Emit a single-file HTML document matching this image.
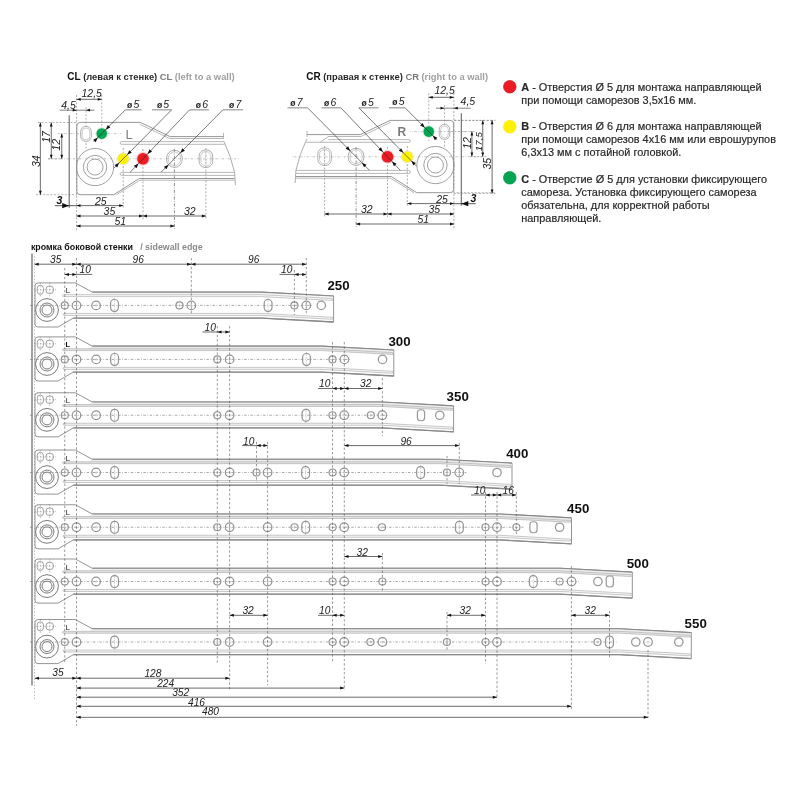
<!DOCTYPE html>
<html><head><meta charset="utf-8"><style>html,body{margin:0;padding:0;background:#fff;}svg{display:block;} svg{will-change:transform;}</style></head>
<body><svg width="800" height="800" viewBox="0 0 800 800">
<rect width="800" height="800" fill="#fff"/>
<path d="M58,327 L38,327 Q35,327 35,324 L35,285.9 Q35,282.9 38,282.9 L75.3,282.9 L92.2,292.1 L261.6,292.1 L333.6,296 L333.6,322 L261.6,318.1 L73.3,318.1 Z" fill="#fff" stroke="#8f8f8f" stroke-width="0.95"/>
<path d="M92.2,292.6 L261.6,292.6 L333,296.5 L333,298.6 L261.6,294.7 L88,294.7 Z" fill="#f6f6f6"/>
<path d="M63.5,294.7 L261.6,294.7 L332.6,298.6 L332.6,300.5 L261.6,296.6 L63.5,296.6 Q62.5,296.6 62.5,295.65 Q62.5,294.7 63.5,294.7 Z" fill="#fafafa" stroke="#a6a6a6" stroke-width="0.6"/>
<path d="M64,313.4 L261.6,313.4 L332.6,317.3 L332.6,319.3 L261.6,315.4 L64,315.4 Q63,315.4 63,314.4 Q63,313.4 64,313.4 Z" fill="#f6f6f6" stroke="#a6a6a6" stroke-width="0.6"/>
<path d="M73.3,318.1 L261.6,318.1 L333.6,322" fill="none" stroke="#8a8a8a" stroke-width="1.3"/>
<path d="M92.2,292.1 L261.6,292.1 L333.6,296" fill="none" stroke="#8a8a8a" stroke-width="1.1"/>
<circle cx="47" cy="310" r="11.4" fill="none" stroke="#7c7c7c" stroke-width="1"/>
<circle cx="47" cy="310" r="7" fill="none" stroke="#7c7c7c" stroke-width="1"/>
<circle cx="47" cy="310" r="5" fill="none" stroke="#7c7c7c" stroke-width="1"/>
<rect x="37.2" y="285.3" width="6.2" height="9" rx="3" fill="none" stroke="#8a8a8a" stroke-width="0.8"/>
<circle cx="49.7" cy="289.8" r="3.9" fill="none" stroke="#8a8a8a" stroke-width="0.8"/>
<line x1="34" y1="289.8" x2="56" y2="289.8" stroke="#888" stroke-width="0.5" stroke-dasharray="1.6,1.4" />
<line x1="40.3" y1="282.8" x2="40.3" y2="296.8" stroke="#888" stroke-width="0.5" stroke-dasharray="1.6,1.4" />
<line x1="49.7" y1="282.8" x2="49.7" y2="296.8" stroke="#888" stroke-width="0.5" stroke-dasharray="1.6,1.4" />
<text x="65.5" y="293.4" font-family="Liberation Sans" font-size="7.4" fill="#666" font-weight="bold" >L</text>
<line x1="30" y1="305.4" x2="313.3" y2="305.4" stroke="#777" stroke-width="0.65" stroke-dasharray="2.4,1.6,0.7,1.6" />
<circle cx="64.75" cy="305.4" r="3.5" fill="none" stroke="#939393" stroke-width="1.2"/>
<line x1="63.25" y1="305.4" x2="66.25" y2="305.4" stroke="#aaa" stroke-width="0.5" />
<line x1="64.75" y1="303.9" x2="64.75" y2="306.9" stroke="#aaa" stroke-width="0.5" />
<circle cx="76.5" cy="305.4" r="4.3" fill="none" stroke="#939393" stroke-width="1.2"/>
<line x1="75" y1="305.4" x2="78" y2="305.4" stroke="#aaa" stroke-width="0.5" />
<line x1="76.5" y1="303.9" x2="76.5" y2="306.9" stroke="#aaa" stroke-width="0.5" />
<circle cx="96.1" cy="305.4" r="4.3" fill="none" stroke="#939393" stroke-width="1.2"/>
<line x1="94.6" y1="305.4" x2="97.6" y2="305.4" stroke="#aaa" stroke-width="0.5" />
<line x1="96.1" y1="303.9" x2="96.1" y2="306.9" stroke="#aaa" stroke-width="0.5" />
<rect x="110.6" y="299.5" width="7.8" height="11.8" rx="3.7" fill="none" stroke="#939393" stroke-width="1.2"/>
<line x1="114.5" y1="297.9" x2="114.5" y2="312.9" stroke="#999" stroke-width="0.5" stroke-dasharray="1.5,1.2" />
<circle cx="179.5" cy="305.4" r="3.5" fill="none" stroke="#939393" stroke-width="1.2"/>
<line x1="178" y1="305.4" x2="181" y2="305.4" stroke="#aaa" stroke-width="0.5" />
<line x1="179.5" y1="303.9" x2="179.5" y2="306.9" stroke="#aaa" stroke-width="0.5" />
<circle cx="191.3" cy="305.4" r="4.3" fill="none" stroke="#939393" stroke-width="1.2"/>
<line x1="189.8" y1="305.4" x2="192.8" y2="305.4" stroke="#aaa" stroke-width="0.5" />
<line x1="191.3" y1="303.9" x2="191.3" y2="306.9" stroke="#aaa" stroke-width="0.5" />
<rect x="264.2" y="299.5" width="7.8" height="11.8" rx="3.7" fill="none" stroke="#939393" stroke-width="1.2"/>
<line x1="268.1" y1="297.9" x2="268.1" y2="312.9" stroke="#999" stroke-width="0.5" stroke-dasharray="1.5,1.2" />
<circle cx="294.4" cy="305.4" r="3.5" fill="none" stroke="#939393" stroke-width="1.2"/>
<line x1="292.9" y1="305.4" x2="295.9" y2="305.4" stroke="#aaa" stroke-width="0.5" />
<line x1="294.4" y1="303.9" x2="294.4" y2="306.9" stroke="#aaa" stroke-width="0.5" />
<circle cx="306.3" cy="305.4" r="4.3" fill="none" stroke="#939393" stroke-width="1.2"/>
<line x1="304.8" y1="305.4" x2="307.8" y2="305.4" stroke="#aaa" stroke-width="0.5" />
<line x1="306.3" y1="303.9" x2="306.3" y2="306.9" stroke="#aaa" stroke-width="0.5" />
<circle cx="321.3" cy="305.4" r="4.2" fill="#fff" stroke="#9a9a9a" stroke-width="1.3"/>
<text x="327.4" y="290" font-family="Liberation Sans" font-size="13.3" fill="#111" font-weight="bold" >250</text>
<path d="M58,381 L38,381 Q35,381 35,378 L35,339.9 Q35,336.9 38,336.9 L75.3,336.9 L92.2,346.1 L321.8,346.1 L393.8,350 L393.8,376 L321.8,372.1 L73.3,372.1 Z" fill="#fff" stroke="#8f8f8f" stroke-width="0.95"/>
<path d="M92.2,346.6 L321.8,346.6 L393.2,350.5 L393.2,352.6 L321.8,348.7 L88,348.7 Z" fill="#eeeeee"/>
<path d="M63.5,348.7 L321.8,348.7 L392.8,352.6 L392.8,354.5 L321.8,350.6 L63.5,350.6 Q62.5,350.6 62.5,349.65 Q62.5,348.7 63.5,348.7 Z" fill="#e4e4e4" stroke="#a6a6a6" stroke-width="0.6"/>
<path d="M64,367.4 L321.8,367.4 L392.8,371.3 L392.8,373.3 L321.8,369.4 L64,369.4 Q63,369.4 63,368.4 Q63,367.4 64,367.4 Z" fill="#f6f6f6" stroke="#a6a6a6" stroke-width="0.6"/>
<path d="M73.3,372.1 L321.8,372.1 L393.8,376" fill="none" stroke="#8a8a8a" stroke-width="1.3"/>
<path d="M92.2,346.1 L321.8,346.1 L393.8,350" fill="none" stroke="#8a8a8a" stroke-width="1.1"/>
<circle cx="47" cy="364" r="11.4" fill="none" stroke="#7c7c7c" stroke-width="1"/>
<circle cx="47" cy="364" r="7" fill="none" stroke="#7c7c7c" stroke-width="1"/>
<circle cx="47" cy="364" r="5" fill="none" stroke="#7c7c7c" stroke-width="1"/>
<rect x="37.2" y="339.3" width="6.2" height="9" rx="3" fill="none" stroke="#8a8a8a" stroke-width="0.8"/>
<circle cx="49.7" cy="343.8" r="3.9" fill="none" stroke="#8a8a8a" stroke-width="0.8"/>
<line x1="34" y1="343.8" x2="56" y2="343.8" stroke="#888" stroke-width="0.5" stroke-dasharray="1.6,1.4" />
<line x1="40.3" y1="336.8" x2="40.3" y2="350.8" stroke="#888" stroke-width="0.5" stroke-dasharray="1.6,1.4" />
<line x1="49.7" y1="336.8" x2="49.7" y2="350.8" stroke="#888" stroke-width="0.5" stroke-dasharray="1.6,1.4" />
<text x="65.5" y="347.4" font-family="Liberation Sans" font-size="7.4" fill="#111" font-weight="bold" >L</text>
<line x1="30" y1="359.4" x2="351.4" y2="359.4" stroke="#777" stroke-width="0.65" stroke-dasharray="2.4,1.6,0.7,1.6" />
<circle cx="64.75" cy="359.4" r="3.5" fill="none" stroke="#939393" stroke-width="1.2"/>
<line x1="63.25" y1="359.4" x2="66.25" y2="359.4" stroke="#aaa" stroke-width="0.5" />
<line x1="64.75" y1="357.9" x2="64.75" y2="360.9" stroke="#aaa" stroke-width="0.5" />
<circle cx="76.5" cy="359.4" r="4.3" fill="none" stroke="#939393" stroke-width="1.2"/>
<line x1="75" y1="359.4" x2="78" y2="359.4" stroke="#aaa" stroke-width="0.5" />
<line x1="76.5" y1="357.9" x2="76.5" y2="360.9" stroke="#aaa" stroke-width="0.5" />
<circle cx="96.2" cy="359.4" r="4.3" fill="none" stroke="#939393" stroke-width="1.2"/>
<line x1="94.7" y1="359.4" x2="97.7" y2="359.4" stroke="#aaa" stroke-width="0.5" />
<line x1="96.2" y1="357.9" x2="96.2" y2="360.9" stroke="#aaa" stroke-width="0.5" />
<rect x="110.7" y="353.5" width="7.8" height="11.8" rx="3.7" fill="none" stroke="#939393" stroke-width="1.2"/>
<line x1="114.6" y1="351.9" x2="114.6" y2="366.9" stroke="#999" stroke-width="0.5" stroke-dasharray="1.5,1.2" />
<circle cx="217.3" cy="359.4" r="3.5" fill="none" stroke="#939393" stroke-width="1.2"/>
<line x1="215.8" y1="359.4" x2="218.8" y2="359.4" stroke="#aaa" stroke-width="0.5" />
<line x1="217.3" y1="357.9" x2="217.3" y2="360.9" stroke="#aaa" stroke-width="0.5" />
<circle cx="229.6" cy="359.4" r="4.3" fill="none" stroke="#939393" stroke-width="1.2"/>
<line x1="228.1" y1="359.4" x2="231.1" y2="359.4" stroke="#aaa" stroke-width="0.5" />
<line x1="229.6" y1="357.9" x2="229.6" y2="360.9" stroke="#aaa" stroke-width="0.5" />
<rect x="302.6" y="353.5" width="7.8" height="11.8" rx="3.7" fill="none" stroke="#939393" stroke-width="1.2"/>
<line x1="306.5" y1="351.9" x2="306.5" y2="366.9" stroke="#999" stroke-width="0.5" stroke-dasharray="1.5,1.2" />
<circle cx="332.5" cy="359.4" r="3.5" fill="none" stroke="#939393" stroke-width="1.2"/>
<line x1="331" y1="359.4" x2="334" y2="359.4" stroke="#aaa" stroke-width="0.5" />
<line x1="332.5" y1="357.9" x2="332.5" y2="360.9" stroke="#aaa" stroke-width="0.5" />
<circle cx="344.4" cy="359.4" r="4.3" fill="none" stroke="#939393" stroke-width="1.2"/>
<line x1="342.9" y1="359.4" x2="345.9" y2="359.4" stroke="#aaa" stroke-width="0.5" />
<line x1="344.4" y1="357.9" x2="344.4" y2="360.9" stroke="#aaa" stroke-width="0.5" />
<circle cx="382.5" cy="359.4" r="4.2" fill="#fff" stroke="#9a9a9a" stroke-width="1.3"/>
<text x="388.4" y="345.8" font-family="Liberation Sans" font-size="13.3" fill="#111" font-weight="bold" >300</text>
<path d="M58,436.85 L38,436.85 Q35,436.85 35,433.85 L35,395.75 Q35,392.75 38,392.75 L75.3,392.75 L92.2,401.95 L381.6,401.95 L453.6,405.85 L453.6,431.85 L381.6,427.95 L73.3,427.95 Z" fill="#fff" stroke="#8f8f8f" stroke-width="0.95"/>
<path d="M92.2,402.45 L381.6,402.45 L453,406.35 L453,408.45 L381.6,404.55 L88,404.55 Z" fill="#eeeeee"/>
<path d="M63.5,404.55 L381.6,404.55 L452.6,408.45 L452.6,410.35 L381.6,406.45 L63.5,406.45 Q62.5,406.45 62.5,405.5 Q62.5,404.55 63.5,404.55 Z" fill="#e4e4e4" stroke="#a6a6a6" stroke-width="0.6"/>
<path d="M64,423.25 L381.6,423.25 L452.6,427.15 L452.6,429.15 L381.6,425.25 L64,425.25 Q63,425.25 63,424.25 Q63,423.25 64,423.25 Z" fill="#f6f6f6" stroke="#a6a6a6" stroke-width="0.6"/>
<path d="M73.3,427.95 L381.6,427.95 L453.6,431.85" fill="none" stroke="#8a8a8a" stroke-width="1.3"/>
<path d="M92.2,401.95 L381.6,401.95 L453.6,405.85" fill="none" stroke="#8a8a8a" stroke-width="1.1"/>
<circle cx="47" cy="419.85" r="11.4" fill="none" stroke="#7c7c7c" stroke-width="1"/>
<circle cx="47" cy="419.85" r="7" fill="none" stroke="#7c7c7c" stroke-width="1"/>
<circle cx="47" cy="419.85" r="5" fill="none" stroke="#7c7c7c" stroke-width="1"/>
<rect x="37.2" y="395.15" width="6.2" height="9" rx="3" fill="none" stroke="#8a8a8a" stroke-width="0.8"/>
<circle cx="49.7" cy="399.65" r="3.9" fill="none" stroke="#8a8a8a" stroke-width="0.8"/>
<line x1="34" y1="399.65" x2="56" y2="399.65" stroke="#888" stroke-width="0.5" stroke-dasharray="1.6,1.4" />
<line x1="40.3" y1="392.65" x2="40.3" y2="406.65" stroke="#888" stroke-width="0.5" stroke-dasharray="1.6,1.4" />
<line x1="49.7" y1="392.65" x2="49.7" y2="406.65" stroke="#888" stroke-width="0.5" stroke-dasharray="1.6,1.4" />
<text x="65.5" y="403.25" font-family="Liberation Sans" font-size="7.4" fill="#666" font-weight="bold" >L</text>
<line x1="30" y1="415.25" x2="389.3" y2="415.25" stroke="#777" stroke-width="0.65" stroke-dasharray="2.4,1.6,0.7,1.6" />
<circle cx="64.75" cy="415.25" r="3.5" fill="none" stroke="#939393" stroke-width="1.2"/>
<line x1="63.25" y1="415.25" x2="66.25" y2="415.25" stroke="#aaa" stroke-width="0.5" />
<line x1="64.75" y1="413.75" x2="64.75" y2="416.75" stroke="#aaa" stroke-width="0.5" />
<circle cx="76.5" cy="415.25" r="4.3" fill="none" stroke="#939393" stroke-width="1.2"/>
<line x1="75" y1="415.25" x2="78" y2="415.25" stroke="#aaa" stroke-width="0.5" />
<line x1="76.5" y1="413.75" x2="76.5" y2="416.75" stroke="#aaa" stroke-width="0.5" />
<circle cx="96.1" cy="415.25" r="4.3" fill="none" stroke="#939393" stroke-width="1.2"/>
<line x1="94.6" y1="415.25" x2="97.6" y2="415.25" stroke="#aaa" stroke-width="0.5" />
<line x1="96.1" y1="413.75" x2="96.1" y2="416.75" stroke="#aaa" stroke-width="0.5" />
<rect x="110.7" y="409.35" width="7.8" height="11.8" rx="3.7" fill="none" stroke="#939393" stroke-width="1.2"/>
<line x1="114.6" y1="407.75" x2="114.6" y2="422.75" stroke="#999" stroke-width="0.5" stroke-dasharray="1.5,1.2" />
<circle cx="217.3" cy="415.25" r="3.5" fill="none" stroke="#939393" stroke-width="1.2"/>
<line x1="215.8" y1="415.25" x2="218.8" y2="415.25" stroke="#aaa" stroke-width="0.5" />
<line x1="217.3" y1="413.75" x2="217.3" y2="416.75" stroke="#aaa" stroke-width="0.5" />
<circle cx="229.6" cy="415.25" r="4.3" fill="none" stroke="#939393" stroke-width="1.2"/>
<line x1="228.1" y1="415.25" x2="231.1" y2="415.25" stroke="#aaa" stroke-width="0.5" />
<line x1="229.6" y1="413.75" x2="229.6" y2="416.75" stroke="#aaa" stroke-width="0.5" />
<rect x="302.1" y="409.35" width="7.8" height="11.8" rx="3.7" fill="none" stroke="#939393" stroke-width="1.2"/>
<line x1="306" y1="407.75" x2="306" y2="422.75" stroke="#999" stroke-width="0.5" stroke-dasharray="1.5,1.2" />
<circle cx="332.5" cy="415.25" r="3.5" fill="none" stroke="#939393" stroke-width="1.2"/>
<line x1="331" y1="415.25" x2="334" y2="415.25" stroke="#aaa" stroke-width="0.5" />
<line x1="332.5" y1="413.75" x2="332.5" y2="416.75" stroke="#aaa" stroke-width="0.5" />
<circle cx="344.2" cy="415.25" r="4.3" fill="none" stroke="#939393" stroke-width="1.2"/>
<line x1="342.7" y1="415.25" x2="345.7" y2="415.25" stroke="#aaa" stroke-width="0.5" />
<line x1="344.2" y1="413.75" x2="344.2" y2="416.75" stroke="#aaa" stroke-width="0.5" />
<circle cx="370.8" cy="415.25" r="3.5" fill="none" stroke="#939393" stroke-width="1.2"/>
<line x1="369.3" y1="415.25" x2="372.3" y2="415.25" stroke="#aaa" stroke-width="0.5" />
<line x1="370.8" y1="413.75" x2="370.8" y2="416.75" stroke="#aaa" stroke-width="0.5" />
<circle cx="382.3" cy="415.25" r="4.3" fill="none" stroke="#939393" stroke-width="1.2"/>
<line x1="380.8" y1="415.25" x2="383.8" y2="415.25" stroke="#aaa" stroke-width="0.5" />
<line x1="382.3" y1="413.75" x2="382.3" y2="416.75" stroke="#aaa" stroke-width="0.5" />
<rect x="417.4" y="409.75" width="7.2" height="11" rx="3" fill="#fff" stroke="#9a9a9a" stroke-width="1.2"/>
<circle cx="439.8" cy="415.25" r="4.2" fill="#fff" stroke="#9a9a9a" stroke-width="1.3"/>
<text x="446.6" y="400.9" font-family="Liberation Sans" font-size="13.3" fill="#111" font-weight="bold" >350</text>
<path d="M58,494.1 L38,494.1 Q35,494.1 35,491.1 L35,453 Q35,450 38,450 L75.3,450 L92.2,459.2 L440,459.2 L512,463.1 L512,489.1 L440,485.2 L73.3,485.2 Z" fill="#fff" stroke="#8f8f8f" stroke-width="0.95"/>
<path d="M92.2,459.7 L440,459.7 L511.4,463.6 L511.4,465.7 L440,461.8 L88,461.8 Z" fill="#eeeeee"/>
<path d="M63.5,461.8 L440,461.8 L511,465.7 L511,467.6 L440,463.7 L63.5,463.7 Q62.5,463.7 62.5,462.75 Q62.5,461.8 63.5,461.8 Z" fill="#e4e4e4" stroke="#a6a6a6" stroke-width="0.6"/>
<path d="M64,480.5 L440,480.5 L511,484.4 L511,486.4 L440,482.5 L64,482.5 Q63,482.5 63,481.5 Q63,480.5 64,480.5 Z" fill="#f6f6f6" stroke="#a6a6a6" stroke-width="0.6"/>
<path d="M73.3,485.2 L440,485.2 L512,489.1" fill="none" stroke="#8a8a8a" stroke-width="1.3"/>
<path d="M92.2,459.2 L440,459.2 L512,463.1" fill="none" stroke="#8a8a8a" stroke-width="1.1"/>
<circle cx="47" cy="477.1" r="11.4" fill="none" stroke="#7c7c7c" stroke-width="1"/>
<circle cx="47" cy="477.1" r="7" fill="none" stroke="#7c7c7c" stroke-width="1"/>
<circle cx="47" cy="477.1" r="5" fill="none" stroke="#7c7c7c" stroke-width="1"/>
<rect x="37.2" y="452.4" width="6.2" height="9" rx="3" fill="none" stroke="#8a8a8a" stroke-width="0.8"/>
<circle cx="49.7" cy="456.9" r="3.9" fill="none" stroke="#8a8a8a" stroke-width="0.8"/>
<line x1="34" y1="456.9" x2="56" y2="456.9" stroke="#888" stroke-width="0.5" stroke-dasharray="1.6,1.4" />
<line x1="40.3" y1="449.9" x2="40.3" y2="463.9" stroke="#888" stroke-width="0.5" stroke-dasharray="1.6,1.4" />
<line x1="49.7" y1="449.9" x2="49.7" y2="463.9" stroke="#888" stroke-width="0.5" stroke-dasharray="1.6,1.4" />
<text x="65.5" y="460.5" font-family="Liberation Sans" font-size="7.4" fill="#666" font-weight="bold" >L</text>
<line x1="30" y1="472.5" x2="466.3" y2="472.5" stroke="#777" stroke-width="0.65" stroke-dasharray="2.4,1.6,0.7,1.6" />
<circle cx="64.75" cy="472.5" r="3.5" fill="none" stroke="#939393" stroke-width="1.2"/>
<line x1="63.25" y1="472.5" x2="66.25" y2="472.5" stroke="#aaa" stroke-width="0.5" />
<line x1="64.75" y1="471" x2="64.75" y2="474" stroke="#aaa" stroke-width="0.5" />
<circle cx="76.5" cy="472.5" r="4.3" fill="none" stroke="#939393" stroke-width="1.2"/>
<line x1="75" y1="472.5" x2="78" y2="472.5" stroke="#aaa" stroke-width="0.5" />
<line x1="76.5" y1="471" x2="76.5" y2="474" stroke="#aaa" stroke-width="0.5" />
<circle cx="96.1" cy="472.5" r="4.3" fill="none" stroke="#939393" stroke-width="1.2"/>
<line x1="94.6" y1="472.5" x2="97.6" y2="472.5" stroke="#aaa" stroke-width="0.5" />
<line x1="96.1" y1="471" x2="96.1" y2="474" stroke="#aaa" stroke-width="0.5" />
<rect x="110.7" y="466.6" width="7.8" height="11.8" rx="3.7" fill="none" stroke="#939393" stroke-width="1.2"/>
<line x1="114.6" y1="465" x2="114.6" y2="480" stroke="#999" stroke-width="0.5" stroke-dasharray="1.5,1.2" />
<circle cx="217.3" cy="472.5" r="3.5" fill="none" stroke="#939393" stroke-width="1.2"/>
<line x1="215.8" y1="472.5" x2="218.8" y2="472.5" stroke="#aaa" stroke-width="0.5" />
<line x1="217.3" y1="471" x2="217.3" y2="474" stroke="#aaa" stroke-width="0.5" />
<circle cx="229.6" cy="472.5" r="4.3" fill="none" stroke="#939393" stroke-width="1.2"/>
<line x1="228.1" y1="472.5" x2="231.1" y2="472.5" stroke="#aaa" stroke-width="0.5" />
<line x1="229.6" y1="471" x2="229.6" y2="474" stroke="#aaa" stroke-width="0.5" />
<circle cx="256.5" cy="472.5" r="3.5" fill="none" stroke="#939393" stroke-width="1.2"/>
<line x1="255" y1="472.5" x2="258" y2="472.5" stroke="#aaa" stroke-width="0.5" />
<line x1="256.5" y1="471" x2="256.5" y2="474" stroke="#aaa" stroke-width="0.5" />
<circle cx="267.6" cy="472.5" r="4.3" fill="none" stroke="#939393" stroke-width="1.2"/>
<line x1="266.1" y1="472.5" x2="269.1" y2="472.5" stroke="#aaa" stroke-width="0.5" />
<line x1="267.6" y1="471" x2="267.6" y2="474" stroke="#aaa" stroke-width="0.5" />
<rect x="301.7" y="466.6" width="7.8" height="11.8" rx="3.7" fill="none" stroke="#939393" stroke-width="1.2"/>
<line x1="305.6" y1="465" x2="305.6" y2="480" stroke="#999" stroke-width="0.5" stroke-dasharray="1.5,1.2" />
<circle cx="332.6" cy="472.5" r="3.5" fill="none" stroke="#939393" stroke-width="1.2"/>
<line x1="331.1" y1="472.5" x2="334.1" y2="472.5" stroke="#aaa" stroke-width="0.5" />
<line x1="332.6" y1="471" x2="332.6" y2="474" stroke="#aaa" stroke-width="0.5" />
<circle cx="344.2" cy="472.5" r="4.3" fill="none" stroke="#939393" stroke-width="1.2"/>
<line x1="342.7" y1="472.5" x2="345.7" y2="472.5" stroke="#aaa" stroke-width="0.5" />
<line x1="344.2" y1="471" x2="344.2" y2="474" stroke="#aaa" stroke-width="0.5" />
<rect x="416.7" y="466.6" width="7.8" height="11.8" rx="3.7" fill="none" stroke="#939393" stroke-width="1.2"/>
<line x1="420.6" y1="465" x2="420.6" y2="480" stroke="#999" stroke-width="0.5" stroke-dasharray="1.5,1.2" />
<circle cx="447" cy="472.5" r="3.5" fill="none" stroke="#939393" stroke-width="1.2"/>
<line x1="445.5" y1="472.5" x2="448.5" y2="472.5" stroke="#aaa" stroke-width="0.5" />
<line x1="447" y1="471" x2="447" y2="474" stroke="#aaa" stroke-width="0.5" />
<circle cx="459.3" cy="472.5" r="4.3" fill="none" stroke="#939393" stroke-width="1.2"/>
<line x1="457.8" y1="472.5" x2="460.8" y2="472.5" stroke="#aaa" stroke-width="0.5" />
<line x1="459.3" y1="471" x2="459.3" y2="474" stroke="#aaa" stroke-width="0.5" />
<circle cx="497" cy="472.5" r="4.2" fill="#fff" stroke="#9a9a9a" stroke-width="1.3"/>
<text x="506.2" y="457.6" font-family="Liberation Sans" font-size="13.3" fill="#111" font-weight="bold" >400</text>
<path d="M58,548.85 L38,548.85 Q35,548.85 35,545.85 L35,507.75 Q35,504.75 38,504.75 L75.3,504.75 L92.2,513.95 L499.5,513.95 L571.5,517.85 L571.5,543.85 L499.5,539.95 L73.3,539.95 Z" fill="#fff" stroke="#8f8f8f" stroke-width="0.95"/>
<path d="M92.2,514.45 L499.5,514.45 L570.9,518.35 L570.9,520.45 L499.5,516.55 L88,516.55 Z" fill="#eeeeee"/>
<path d="M63.5,516.55 L499.5,516.55 L570.5,520.45 L570.5,522.35 L499.5,518.45 L63.5,518.45 Q62.5,518.45 62.5,517.5 Q62.5,516.55 63.5,516.55 Z" fill="#e4e4e4" stroke="#a6a6a6" stroke-width="0.6"/>
<path d="M64,535.25 L499.5,535.25 L570.5,539.15 L570.5,541.15 L499.5,537.25 L64,537.25 Q63,537.25 63,536.25 Q63,535.25 64,535.25 Z" fill="#f6f6f6" stroke="#a6a6a6" stroke-width="0.6"/>
<path d="M73.3,539.95 L499.5,539.95 L571.5,543.85" fill="none" stroke="#8a8a8a" stroke-width="1.3"/>
<path d="M92.2,513.95 L499.5,513.95 L571.5,517.85" fill="none" stroke="#8a8a8a" stroke-width="1.1"/>
<circle cx="47" cy="531.85" r="11.4" fill="none" stroke="#7c7c7c" stroke-width="1"/>
<circle cx="47" cy="531.85" r="7" fill="none" stroke="#7c7c7c" stroke-width="1"/>
<circle cx="47" cy="531.85" r="5" fill="none" stroke="#7c7c7c" stroke-width="1"/>
<rect x="37.2" y="507.15" width="6.2" height="9" rx="3" fill="none" stroke="#8a8a8a" stroke-width="0.8"/>
<circle cx="49.7" cy="511.65" r="3.9" fill="none" stroke="#8a8a8a" stroke-width="0.8"/>
<line x1="34" y1="511.65" x2="56" y2="511.65" stroke="#888" stroke-width="0.5" stroke-dasharray="1.6,1.4" />
<line x1="40.3" y1="504.65" x2="40.3" y2="518.65" stroke="#888" stroke-width="0.5" stroke-dasharray="1.6,1.4" />
<line x1="49.7" y1="504.65" x2="49.7" y2="518.65" stroke="#888" stroke-width="0.5" stroke-dasharray="1.6,1.4" />
<text x="65.5" y="515.25" font-family="Liberation Sans" font-size="7.4" fill="#666" font-weight="bold" >L</text>
<line x1="30" y1="527.25" x2="523.4" y2="527.25" stroke="#777" stroke-width="0.65" stroke-dasharray="2.4,1.6,0.7,1.6" />
<circle cx="64.75" cy="527.25" r="3.5" fill="none" stroke="#939393" stroke-width="1.2"/>
<line x1="63.25" y1="527.25" x2="66.25" y2="527.25" stroke="#aaa" stroke-width="0.5" />
<line x1="64.75" y1="525.75" x2="64.75" y2="528.75" stroke="#aaa" stroke-width="0.5" />
<circle cx="76.5" cy="527.25" r="4.3" fill="none" stroke="#939393" stroke-width="1.2"/>
<line x1="75" y1="527.25" x2="78" y2="527.25" stroke="#aaa" stroke-width="0.5" />
<line x1="76.5" y1="525.75" x2="76.5" y2="528.75" stroke="#aaa" stroke-width="0.5" />
<circle cx="96.1" cy="527.25" r="4.3" fill="none" stroke="#939393" stroke-width="1.2"/>
<line x1="94.6" y1="527.25" x2="97.6" y2="527.25" stroke="#aaa" stroke-width="0.5" />
<line x1="96.1" y1="525.75" x2="96.1" y2="528.75" stroke="#aaa" stroke-width="0.5" />
<rect x="110.7" y="521.35" width="7.8" height="11.8" rx="3.7" fill="none" stroke="#939393" stroke-width="1.2"/>
<line x1="114.6" y1="519.75" x2="114.6" y2="534.75" stroke="#999" stroke-width="0.5" stroke-dasharray="1.5,1.2" />
<circle cx="217.3" cy="527.25" r="3.5" fill="none" stroke="#939393" stroke-width="1.2"/>
<line x1="215.8" y1="527.25" x2="218.8" y2="527.25" stroke="#aaa" stroke-width="0.5" />
<line x1="217.3" y1="525.75" x2="217.3" y2="528.75" stroke="#aaa" stroke-width="0.5" />
<circle cx="229.6" cy="527.25" r="4.3" fill="none" stroke="#939393" stroke-width="1.2"/>
<line x1="228.1" y1="527.25" x2="231.1" y2="527.25" stroke="#aaa" stroke-width="0.5" />
<line x1="229.6" y1="525.75" x2="229.6" y2="528.75" stroke="#aaa" stroke-width="0.5" />
<circle cx="267.6" cy="527.25" r="4.3" fill="none" stroke="#939393" stroke-width="1.2"/>
<line x1="266.1" y1="527.25" x2="269.1" y2="527.25" stroke="#aaa" stroke-width="0.5" />
<line x1="267.6" y1="525.75" x2="267.6" y2="528.75" stroke="#aaa" stroke-width="0.5" />
<circle cx="294.5" cy="527.25" r="3.5" fill="none" stroke="#939393" stroke-width="1.2"/>
<line x1="293" y1="527.25" x2="296" y2="527.25" stroke="#aaa" stroke-width="0.5" />
<line x1="294.5" y1="525.75" x2="294.5" y2="528.75" stroke="#aaa" stroke-width="0.5" />
<rect x="301.8" y="521.35" width="7.8" height="11.8" rx="3.7" fill="none" stroke="#939393" stroke-width="1.2"/>
<line x1="305.7" y1="519.75" x2="305.7" y2="534.75" stroke="#999" stroke-width="0.5" stroke-dasharray="1.5,1.2" />
<circle cx="332.6" cy="527.25" r="3.5" fill="none" stroke="#939393" stroke-width="1.2"/>
<line x1="331.1" y1="527.25" x2="334.1" y2="527.25" stroke="#aaa" stroke-width="0.5" />
<line x1="332.6" y1="525.75" x2="332.6" y2="528.75" stroke="#aaa" stroke-width="0.5" />
<circle cx="344.2" cy="527.25" r="4.3" fill="none" stroke="#939393" stroke-width="1.2"/>
<line x1="342.7" y1="527.25" x2="345.7" y2="527.25" stroke="#aaa" stroke-width="0.5" />
<line x1="344.2" y1="525.75" x2="344.2" y2="528.75" stroke="#aaa" stroke-width="0.5" />
<circle cx="382" cy="527.25" r="3.5" fill="none" stroke="#939393" stroke-width="1.2"/>
<line x1="380.5" y1="527.25" x2="383.5" y2="527.25" stroke="#aaa" stroke-width="0.5" />
<line x1="382" y1="525.75" x2="382" y2="528.75" stroke="#aaa" stroke-width="0.5" />
<rect x="455.5" y="521.35" width="7.8" height="11.8" rx="3.7" fill="none" stroke="#939393" stroke-width="1.2"/>
<line x1="459.4" y1="519.75" x2="459.4" y2="534.75" stroke="#999" stroke-width="0.5" stroke-dasharray="1.5,1.2" />
<circle cx="485.5" cy="527.25" r="3.5" fill="none" stroke="#939393" stroke-width="1.2"/>
<line x1="484" y1="527.25" x2="487" y2="527.25" stroke="#aaa" stroke-width="0.5" />
<line x1="485.5" y1="525.75" x2="485.5" y2="528.75" stroke="#aaa" stroke-width="0.5" />
<circle cx="497" cy="527.25" r="4.3" fill="none" stroke="#939393" stroke-width="1.2"/>
<line x1="495.5" y1="527.25" x2="498.5" y2="527.25" stroke="#aaa" stroke-width="0.5" />
<line x1="497" y1="525.75" x2="497" y2="528.75" stroke="#aaa" stroke-width="0.5" />
<circle cx="516.4" cy="527.25" r="3.5" fill="none" stroke="#939393" stroke-width="1.2"/>
<line x1="514.9" y1="527.25" x2="517.9" y2="527.25" stroke="#aaa" stroke-width="0.5" />
<line x1="516.4" y1="525.75" x2="516.4" y2="528.75" stroke="#aaa" stroke-width="0.5" />
<rect x="529.9" y="521.75" width="7.2" height="11" rx="3" fill="#fff" stroke="#9a9a9a" stroke-width="1.2"/>
<circle cx="559.6" cy="527.25" r="4.2" fill="#fff" stroke="#9a9a9a" stroke-width="1.3"/>
<text x="567.1" y="513.3" font-family="Liberation Sans" font-size="13.3" fill="#111" font-weight="bold" >450</text>
<path d="M58,603.1 L38,603.1 Q35,603.1 35,600.1 L35,562 Q35,559 38,559 L75.3,559 L92.2,568.2 L560.3,568.2 L632.3,572.1 L632.3,598.1 L560.3,594.2 L73.3,594.2 Z" fill="#fff" stroke="#8f8f8f" stroke-width="0.95"/>
<path d="M92.2,568.7 L560.3,568.7 L631.7,572.6 L631.7,574.7 L560.3,570.8 L88,570.8 Z" fill="#eeeeee"/>
<path d="M63.5,570.8 L560.3,570.8 L631.3,574.7 L631.3,576.6 L560.3,572.7 L63.5,572.7 Q62.5,572.7 62.5,571.75 Q62.5,570.8 63.5,570.8 Z" fill="#e4e4e4" stroke="#a6a6a6" stroke-width="0.6"/>
<path d="M64,589.5 L560.3,589.5 L631.3,593.4 L631.3,595.4 L560.3,591.5 L64,591.5 Q63,591.5 63,590.5 Q63,589.5 64,589.5 Z" fill="#f6f6f6" stroke="#a6a6a6" stroke-width="0.6"/>
<path d="M73.3,594.2 L560.3,594.2 L632.3,598.1" fill="none" stroke="#8a8a8a" stroke-width="1.3"/>
<path d="M92.2,568.2 L560.3,568.2 L632.3,572.1" fill="none" stroke="#8a8a8a" stroke-width="1.1"/>
<circle cx="47" cy="586.1" r="11.4" fill="none" stroke="#7c7c7c" stroke-width="1"/>
<circle cx="47" cy="586.1" r="7" fill="none" stroke="#7c7c7c" stroke-width="1"/>
<circle cx="47" cy="586.1" r="5" fill="none" stroke="#7c7c7c" stroke-width="1"/>
<rect x="37.2" y="561.4" width="6.2" height="9" rx="3" fill="none" stroke="#8a8a8a" stroke-width="0.8"/>
<circle cx="49.7" cy="565.9" r="3.9" fill="none" stroke="#8a8a8a" stroke-width="0.8"/>
<line x1="34" y1="565.9" x2="56" y2="565.9" stroke="#888" stroke-width="0.5" stroke-dasharray="1.6,1.4" />
<line x1="40.3" y1="558.9" x2="40.3" y2="572.9" stroke="#888" stroke-width="0.5" stroke-dasharray="1.6,1.4" />
<line x1="49.7" y1="558.9" x2="49.7" y2="572.9" stroke="#888" stroke-width="0.5" stroke-dasharray="1.6,1.4" />
<text x="65.5" y="569.5" font-family="Liberation Sans" font-size="7.4" fill="#666" font-weight="bold" >L</text>
<line x1="30" y1="581.5" x2="578.6" y2="581.5" stroke="#777" stroke-width="0.65" stroke-dasharray="2.4,1.6,0.7,1.6" />
<circle cx="64.75" cy="581.5" r="3.5" fill="none" stroke="#939393" stroke-width="1.2"/>
<line x1="63.25" y1="581.5" x2="66.25" y2="581.5" stroke="#aaa" stroke-width="0.5" />
<line x1="64.75" y1="580" x2="64.75" y2="583" stroke="#aaa" stroke-width="0.5" />
<circle cx="76.5" cy="581.5" r="4.3" fill="none" stroke="#939393" stroke-width="1.2"/>
<line x1="75" y1="581.5" x2="78" y2="581.5" stroke="#aaa" stroke-width="0.5" />
<line x1="76.5" y1="580" x2="76.5" y2="583" stroke="#aaa" stroke-width="0.5" />
<circle cx="96.1" cy="581.5" r="4.3" fill="none" stroke="#939393" stroke-width="1.2"/>
<line x1="94.6" y1="581.5" x2="97.6" y2="581.5" stroke="#aaa" stroke-width="0.5" />
<line x1="96.1" y1="580" x2="96.1" y2="583" stroke="#aaa" stroke-width="0.5" />
<rect x="110.7" y="575.6" width="7.8" height="11.8" rx="3.7" fill="none" stroke="#939393" stroke-width="1.2"/>
<line x1="114.6" y1="574" x2="114.6" y2="589" stroke="#999" stroke-width="0.5" stroke-dasharray="1.5,1.2" />
<circle cx="217.3" cy="581.5" r="3.5" fill="none" stroke="#939393" stroke-width="1.2"/>
<line x1="215.8" y1="581.5" x2="218.8" y2="581.5" stroke="#aaa" stroke-width="0.5" />
<line x1="217.3" y1="580" x2="217.3" y2="583" stroke="#aaa" stroke-width="0.5" />
<circle cx="229.6" cy="581.5" r="4.3" fill="none" stroke="#939393" stroke-width="1.2"/>
<line x1="228.1" y1="581.5" x2="231.1" y2="581.5" stroke="#aaa" stroke-width="0.5" />
<line x1="229.6" y1="580" x2="229.6" y2="583" stroke="#aaa" stroke-width="0.5" />
<circle cx="267.6" cy="581.5" r="4.3" fill="none" stroke="#939393" stroke-width="1.2"/>
<line x1="266.1" y1="581.5" x2="269.1" y2="581.5" stroke="#aaa" stroke-width="0.5" />
<line x1="267.6" y1="580" x2="267.6" y2="583" stroke="#aaa" stroke-width="0.5" />
<circle cx="332.6" cy="581.5" r="3.5" fill="none" stroke="#939393" stroke-width="1.2"/>
<line x1="331.1" y1="581.5" x2="334.1" y2="581.5" stroke="#aaa" stroke-width="0.5" />
<line x1="332.6" y1="580" x2="332.6" y2="583" stroke="#aaa" stroke-width="0.5" />
<circle cx="344.2" cy="581.5" r="4.3" fill="none" stroke="#939393" stroke-width="1.2"/>
<line x1="342.7" y1="581.5" x2="345.7" y2="581.5" stroke="#aaa" stroke-width="0.5" />
<line x1="344.2" y1="580" x2="344.2" y2="583" stroke="#aaa" stroke-width="0.5" />
<circle cx="382.4" cy="581.5" r="3.5" fill="none" stroke="#939393" stroke-width="1.2"/>
<line x1="380.9" y1="581.5" x2="383.9" y2="581.5" stroke="#aaa" stroke-width="0.5" />
<line x1="382.4" y1="580" x2="382.4" y2="583" stroke="#aaa" stroke-width="0.5" />
<circle cx="485.6" cy="581.5" r="3.5" fill="none" stroke="#939393" stroke-width="1.2"/>
<line x1="484.1" y1="581.5" x2="487.1" y2="581.5" stroke="#aaa" stroke-width="0.5" />
<line x1="485.6" y1="580" x2="485.6" y2="583" stroke="#aaa" stroke-width="0.5" />
<circle cx="497" cy="581.5" r="4.3" fill="none" stroke="#939393" stroke-width="1.2"/>
<line x1="495.5" y1="581.5" x2="498.5" y2="581.5" stroke="#aaa" stroke-width="0.5" />
<line x1="497" y1="580" x2="497" y2="583" stroke="#aaa" stroke-width="0.5" />
<rect x="529.4" y="575.6" width="7.8" height="11.8" rx="3.7" fill="none" stroke="#939393" stroke-width="1.2"/>
<line x1="533.3" y1="574" x2="533.3" y2="589" stroke="#999" stroke-width="0.5" stroke-dasharray="1.5,1.2" />
<circle cx="559.6" cy="581.5" r="3.5" fill="none" stroke="#939393" stroke-width="1.2"/>
<line x1="558.1" y1="581.5" x2="561.1" y2="581.5" stroke="#aaa" stroke-width="0.5" />
<line x1="559.6" y1="580" x2="559.6" y2="583" stroke="#aaa" stroke-width="0.5" />
<circle cx="571.6" cy="581.5" r="4.3" fill="none" stroke="#939393" stroke-width="1.2"/>
<line x1="570.1" y1="581.5" x2="573.1" y2="581.5" stroke="#aaa" stroke-width="0.5" />
<line x1="571.6" y1="580" x2="571.6" y2="583" stroke="#aaa" stroke-width="0.5" />
<circle cx="597.9" cy="581.5" r="4.2" fill="#fff" stroke="#9a9a9a" stroke-width="1.3"/>
<rect x="606.2" y="576" width="7.2" height="11" rx="3" fill="#fff" stroke="#9a9a9a" stroke-width="1.2"/>
<text x="626.7" y="567.5" font-family="Liberation Sans" font-size="13.3" fill="#111" font-weight="bold" >500</text>
<path d="M58,663.6 L38,663.6 Q35,663.6 35,660.6 L35,622.5 Q35,619.5 38,619.5 L75.3,619.5 L92.2,628.7 L619.3,628.7 L691.3,632.6 L691.3,658.6 L619.3,654.7 L73.3,654.7 Z" fill="#fff" stroke="#8f8f8f" stroke-width="0.95"/>
<path d="M92.2,629.2 L619.3,629.2 L690.7,633.1 L690.7,635.2 L619.3,631.3 L88,631.3 Z" fill="#eeeeee"/>
<path d="M63.5,631.3 L619.3,631.3 L690.3,635.2 L690.3,637.1 L619.3,633.2 L63.5,633.2 Q62.5,633.2 62.5,632.25 Q62.5,631.3 63.5,631.3 Z" fill="#e4e4e4" stroke="#a6a6a6" stroke-width="0.6"/>
<path d="M64,650 L619.3,650 L690.3,653.9 L690.3,655.9 L619.3,652 L64,652 Q63,652 63,651 Q63,650 64,650 Z" fill="#f6f6f6" stroke="#a6a6a6" stroke-width="0.6"/>
<path d="M73.3,654.7 L619.3,654.7 L691.3,658.6" fill="none" stroke="#8a8a8a" stroke-width="1.3"/>
<path d="M92.2,628.7 L619.3,628.7 L691.3,632.6" fill="none" stroke="#8a8a8a" stroke-width="1.1"/>
<circle cx="47" cy="646.6" r="11.4" fill="none" stroke="#7c7c7c" stroke-width="1"/>
<circle cx="47" cy="646.6" r="7" fill="none" stroke="#7c7c7c" stroke-width="1"/>
<circle cx="47" cy="646.6" r="5" fill="none" stroke="#7c7c7c" stroke-width="1"/>
<rect x="37.2" y="621.9" width="6.2" height="9" rx="3" fill="none" stroke="#8a8a8a" stroke-width="0.8"/>
<circle cx="49.7" cy="626.4" r="3.9" fill="none" stroke="#8a8a8a" stroke-width="0.8"/>
<line x1="34" y1="626.4" x2="56" y2="626.4" stroke="#888" stroke-width="0.5" stroke-dasharray="1.6,1.4" />
<line x1="40.3" y1="619.4" x2="40.3" y2="633.4" stroke="#888" stroke-width="0.5" stroke-dasharray="1.6,1.4" />
<line x1="49.7" y1="619.4" x2="49.7" y2="633.4" stroke="#888" stroke-width="0.5" stroke-dasharray="1.6,1.4" />
<text x="65.5" y="630" font-family="Liberation Sans" font-size="7.4" fill="#666" font-weight="bold" >L</text>
<line x1="30" y1="642" x2="616.5" y2="642" stroke="#777" stroke-width="0.65" stroke-dasharray="2.4,1.6,0.7,1.6" />
<circle cx="64.75" cy="642" r="3.5" fill="none" stroke="#939393" stroke-width="1.2"/>
<line x1="63.25" y1="642" x2="66.25" y2="642" stroke="#aaa" stroke-width="0.5" />
<line x1="64.75" y1="640.5" x2="64.75" y2="643.5" stroke="#aaa" stroke-width="0.5" />
<circle cx="76.5" cy="642" r="4.3" fill="none" stroke="#939393" stroke-width="1.2"/>
<line x1="75" y1="642" x2="78" y2="642" stroke="#aaa" stroke-width="0.5" />
<line x1="76.5" y1="640.5" x2="76.5" y2="643.5" stroke="#aaa" stroke-width="0.5" />
<rect x="110.7" y="636.1" width="7.8" height="11.8" rx="3.7" fill="none" stroke="#939393" stroke-width="1.2"/>
<line x1="114.6" y1="634.5" x2="114.6" y2="649.5" stroke="#999" stroke-width="0.5" stroke-dasharray="1.5,1.2" />
<circle cx="217.3" cy="642" r="3.5" fill="none" stroke="#939393" stroke-width="1.2"/>
<line x1="215.8" y1="642" x2="218.8" y2="642" stroke="#aaa" stroke-width="0.5" />
<line x1="217.3" y1="640.5" x2="217.3" y2="643.5" stroke="#aaa" stroke-width="0.5" />
<circle cx="229.6" cy="642" r="4.3" fill="none" stroke="#939393" stroke-width="1.2"/>
<line x1="228.1" y1="642" x2="231.1" y2="642" stroke="#aaa" stroke-width="0.5" />
<line x1="229.6" y1="640.5" x2="229.6" y2="643.5" stroke="#aaa" stroke-width="0.5" />
<circle cx="267.6" cy="642" r="4.3" fill="none" stroke="#939393" stroke-width="1.2"/>
<line x1="266.1" y1="642" x2="269.1" y2="642" stroke="#aaa" stroke-width="0.5" />
<line x1="267.6" y1="640.5" x2="267.6" y2="643.5" stroke="#aaa" stroke-width="0.5" />
<circle cx="332.6" cy="642" r="3.5" fill="none" stroke="#939393" stroke-width="1.2"/>
<line x1="331.1" y1="642" x2="334.1" y2="642" stroke="#aaa" stroke-width="0.5" />
<line x1="332.6" y1="640.5" x2="332.6" y2="643.5" stroke="#aaa" stroke-width="0.5" />
<circle cx="344.2" cy="642" r="4.3" fill="none" stroke="#939393" stroke-width="1.2"/>
<line x1="342.7" y1="642" x2="345.7" y2="642" stroke="#aaa" stroke-width="0.5" />
<line x1="344.2" y1="640.5" x2="344.2" y2="643.5" stroke="#aaa" stroke-width="0.5" />
<circle cx="370.4" cy="642" r="3.5" fill="none" stroke="#939393" stroke-width="1.2"/>
<line x1="368.9" y1="642" x2="371.9" y2="642" stroke="#aaa" stroke-width="0.5" />
<line x1="370.4" y1="640.5" x2="370.4" y2="643.5" stroke="#aaa" stroke-width="0.5" />
<circle cx="382.4" cy="642" r="4.3" fill="none" stroke="#939393" stroke-width="1.2"/>
<line x1="380.9" y1="642" x2="383.9" y2="642" stroke="#aaa" stroke-width="0.5" />
<line x1="382.4" y1="640.5" x2="382.4" y2="643.5" stroke="#aaa" stroke-width="0.5" />
<circle cx="446.9" cy="642" r="3.5" fill="none" stroke="#939393" stroke-width="1.2"/>
<line x1="445.4" y1="642" x2="448.4" y2="642" stroke="#aaa" stroke-width="0.5" />
<line x1="446.9" y1="640.5" x2="446.9" y2="643.5" stroke="#aaa" stroke-width="0.5" />
<circle cx="485.6" cy="642" r="3.5" fill="none" stroke="#939393" stroke-width="1.2"/>
<line x1="484.1" y1="642" x2="487.1" y2="642" stroke="#aaa" stroke-width="0.5" />
<line x1="485.6" y1="640.5" x2="485.6" y2="643.5" stroke="#aaa" stroke-width="0.5" />
<circle cx="497" cy="642" r="4.3" fill="none" stroke="#939393" stroke-width="1.2"/>
<line x1="495.5" y1="642" x2="498.5" y2="642" stroke="#aaa" stroke-width="0.5" />
<line x1="497" y1="640.5" x2="497" y2="643.5" stroke="#aaa" stroke-width="0.5" />
<circle cx="597.5" cy="642" r="3.5" fill="none" stroke="#939393" stroke-width="1.2"/>
<line x1="596" y1="642" x2="599" y2="642" stroke="#aaa" stroke-width="0.5" />
<line x1="597.5" y1="640.5" x2="597.5" y2="643.5" stroke="#aaa" stroke-width="0.5" />
<rect x="605.6" y="636.1" width="7.8" height="11.8" rx="3.7" fill="none" stroke="#939393" stroke-width="1.2"/>
<line x1="609.5" y1="634.5" x2="609.5" y2="649.5" stroke="#999" stroke-width="0.5" stroke-dasharray="1.5,1.2" />
<circle cx="635.8" cy="642" r="4.2" fill="#fff" stroke="#9a9a9a" stroke-width="1.3"/>
<circle cx="648" cy="642" r="4.3" fill="none" stroke="#939393" stroke-width="1.2"/>
<line x1="646.5" y1="642" x2="649.5" y2="642" stroke="#aaa" stroke-width="0.5" />
<line x1="648" y1="640.5" x2="648" y2="643.5" stroke="#aaa" stroke-width="0.5" />
<circle cx="678.8" cy="642" r="4.2" fill="#fff" stroke="#9a9a9a" stroke-width="1.3"/>
<text x="684.6" y="627.5" font-family="Liberation Sans" font-size="13.3" fill="#111" font-weight="bold" >550</text>
<line x1="32" y1="253.5" x2="32" y2="685.5" stroke="#7a7a7a" stroke-width="1.4" />
<line x1="34.5" y1="256" x2="34.5" y2="700" stroke="#888" stroke-width="0.5" stroke-dasharray="1.6,1.6" />
<line x1="64.75" y1="268" x2="64.75" y2="663" stroke="#555" stroke-width="0.6" stroke-dasharray="2.4,2" />
<line x1="76.5" y1="258" x2="76.5" y2="726" stroke="#555" stroke-width="0.6" stroke-dasharray="2.4,2" />
<line x1="191.3" y1="258" x2="191.3" y2="315" stroke="#555" stroke-width="0.6" stroke-dasharray="2.4,2" />
<line x1="294.4" y1="270" x2="294.4" y2="315" stroke="#555" stroke-width="0.6" stroke-dasharray="2.4,2" />
<line x1="306.3" y1="258" x2="306.3" y2="315" stroke="#555" stroke-width="0.6" stroke-dasharray="2.4,2" />
<line x1="217.3" y1="326" x2="217.3" y2="663" stroke="#555" stroke-width="0.6" stroke-dasharray="2.4,2" />
<line x1="229.6" y1="326" x2="229.6" y2="690" stroke="#555" stroke-width="0.6" stroke-dasharray="2.4,2" />
<line x1="332.5" y1="342" x2="332.5" y2="663" stroke="#555" stroke-width="0.6" stroke-dasharray="2.4,2" />
<line x1="344.3" y1="342" x2="344.3" y2="690" stroke="#555" stroke-width="0.6" stroke-dasharray="2.4,2" />
<line x1="382.4" y1="378" x2="382.4" y2="436" stroke="#555" stroke-width="0.6" stroke-dasharray="2.4,2" />
<line x1="256.5" y1="442" x2="256.5" y2="482" stroke="#555" stroke-width="0.6" stroke-dasharray="2.4,2" />
<line x1="267.6" y1="442" x2="267.6" y2="685" stroke="#555" stroke-width="0.6" stroke-dasharray="2.4,2" />
<line x1="459.3" y1="443" x2="459.3" y2="484" stroke="#555" stroke-width="0.6" stroke-dasharray="2.4,2" />
<line x1="447" y1="456" x2="447" y2="484" stroke="#555" stroke-width="0.6" stroke-dasharray="2.4,2" />
<line x1="485.5" y1="492" x2="485.5" y2="664" stroke="#555" stroke-width="0.6" stroke-dasharray="2.4,2" />
<line x1="497" y1="492" x2="497" y2="699" stroke="#555" stroke-width="0.6" stroke-dasharray="2.4,2" />
<line x1="516.3" y1="492" x2="516.3" y2="535" stroke="#555" stroke-width="0.6" stroke-dasharray="2.4,2" />
<line x1="382.4" y1="553" x2="382.4" y2="592" stroke="#555" stroke-width="0.6" stroke-dasharray="2.4,2" />
<line x1="571.4" y1="566" x2="571.4" y2="709" stroke="#555" stroke-width="0.6" stroke-dasharray="2.4,2" />
<line x1="609.5" y1="611" x2="609.5" y2="658" stroke="#555" stroke-width="0.6" stroke-dasharray="2.4,2" />
<line x1="447" y1="612" x2="447" y2="650" stroke="#555" stroke-width="0.6" stroke-dasharray="2.4,2" />
<line x1="648" y1="650" x2="648" y2="718" stroke="#555" stroke-width="0.6" stroke-dasharray="2.4,2" />
<line x1="34.5" y1="264.2" x2="76.5" y2="264.2" stroke="#2b2b2b" stroke-width="0.7" />
<path d="M34.5,264.2L38.7,262.7L38.7,265.7Z" fill="#111"/>
<path d="M76.5,264.2L72.3,265.7L72.3,262.7Z" fill="#111"/>
<line x1="76.5" y1="264.2" x2="191.3" y2="264.2" stroke="#2b2b2b" stroke-width="0.7" />
<path d="M76.5,264.2L80.7,262.7L80.7,265.7Z" fill="#111"/>
<path d="M191.3,264.2L187.1,265.7L187.1,262.7Z" fill="#111"/>
<line x1="191.3" y1="264.2" x2="306.3" y2="264.2" stroke="#2b2b2b" stroke-width="0.7" />
<path d="M191.3,264.2L195.5,262.7L195.5,265.7Z" fill="#111"/>
<path d="M306.3,264.2L302.1,265.7L302.1,262.7Z" fill="#111"/>
<text x="50" y="263.1" font-family="Liberation Sans" font-size="10.2" fill="#222" font-style="italic" >35</text>
<text x="132.5" y="263.1" font-family="Liberation Sans" font-size="10.2" fill="#222" font-style="italic" >96</text>
<text x="248" y="263.1" font-family="Liberation Sans" font-size="10.2" fill="#222" font-style="italic" >96</text>
<line x1="64.75" y1="274.4" x2="76.5" y2="274.4" stroke="#2b2b2b" stroke-width="0.7" />
<path d="M64.75,274.4L68.95,272.9L68.95,275.9Z" fill="#111"/>
<path d="M76.5,274.4L72.3,275.9L72.3,272.9Z" fill="#111"/>
<line x1="76.5" y1="274.4" x2="92" y2="274.4" stroke="#2b2b2b" stroke-width="0.7" />
<text x="79.5" y="273.3" font-family="Liberation Sans" font-size="10.2" fill="#222" font-style="italic" >10</text>
<line x1="294.4" y1="274.4" x2="306.3" y2="274.4" stroke="#2b2b2b" stroke-width="0.7" />
<path d="M294.4,274.4L298.6,272.9L298.6,275.9Z" fill="#111"/>
<path d="M306.3,274.4L302.1,275.9L302.1,272.9Z" fill="#111"/>
<line x1="279.5" y1="274.4" x2="294.4" y2="274.4" stroke="#2b2b2b" stroke-width="0.7" />
<text x="281" y="273.3" font-family="Liberation Sans" font-size="10.2" fill="#222" font-style="italic" >10</text>
<line x1="217.3" y1="332" x2="229.6" y2="332" stroke="#2b2b2b" stroke-width="0.7" />
<path d="M217.3,332L221.5,330.5L221.5,333.5Z" fill="#111"/>
<path d="M229.6,332L225.4,333.5L225.4,330.5Z" fill="#111"/>
<line x1="202.5" y1="332" x2="217.3" y2="332" stroke="#2b2b2b" stroke-width="0.7" />
<text x="204.5" y="330.9" font-family="Liberation Sans" font-size="10.2" fill="#222" font-style="italic" >10</text>
<line x1="332.5" y1="388.5" x2="344.3" y2="388.5" stroke="#2b2b2b" stroke-width="0.7" />
<path d="M332.5,388.5L336.7,387L336.7,390Z" fill="#111"/>
<path d="M344.3,388.5L340.1,390L340.1,387Z" fill="#111"/>
<line x1="318" y1="388.5" x2="332.5" y2="388.5" stroke="#2b2b2b" stroke-width="0.7" />
<text x="319" y="387.3" font-family="Liberation Sans" font-size="10.2" fill="#222" font-style="italic" >10</text>
<line x1="344.3" y1="388.5" x2="382.4" y2="388.5" stroke="#2b2b2b" stroke-width="0.7" />
<path d="M344.3,388.5L348.5,387L348.5,390Z" fill="#111"/>
<path d="M382.4,388.5L378.2,390L378.2,387Z" fill="#111"/>
<text x="360" y="387.3" font-family="Liberation Sans" font-size="10.2" fill="#222" font-style="italic" >32</text>
<line x1="256.5" y1="445.6" x2="267.6" y2="445.6" stroke="#2b2b2b" stroke-width="0.7" />
<path d="M256.5,445.6L260.7,444.1L260.7,447.1Z" fill="#111"/>
<path d="M267.6,445.6L263.4,447.1L263.4,444.1Z" fill="#111"/>
<line x1="242" y1="445.6" x2="256.5" y2="445.6" stroke="#2b2b2b" stroke-width="0.7" />
<text x="243" y="444.5" font-family="Liberation Sans" font-size="10.2" fill="#222" font-style="italic" >10</text>
<line x1="344.3" y1="445.6" x2="459.3" y2="445.6" stroke="#2b2b2b" stroke-width="0.7" />
<path d="M344.3,445.6L348.5,444.1L348.5,447.1Z" fill="#111"/>
<path d="M459.3,445.6L455.1,447.1L455.1,444.1Z" fill="#111"/>
<text x="400.4" y="444.5" font-family="Liberation Sans" font-size="10.2" fill="#222" font-style="italic" >96</text>
<line x1="485.5" y1="495" x2="497" y2="495" stroke="#2b2b2b" stroke-width="0.7" />
<path d="M485.5,495L489.7,493.5L489.7,496.5Z" fill="#111"/>
<path d="M497,495L492.8,496.5L492.8,493.5Z" fill="#111"/>
<line x1="471" y1="495" x2="485.5" y2="495" stroke="#2b2b2b" stroke-width="0.7" />
<text x="474" y="493.7" font-family="Liberation Sans" font-size="10.2" fill="#222" font-style="italic" >10</text>
<line x1="497" y1="495" x2="516.3" y2="495" stroke="#2b2b2b" stroke-width="0.7" />
<path d="M497,495L501.2,493.5L501.2,496.5Z" fill="#111"/>
<path d="M516.3,495L512.1,496.5L512.1,493.5Z" fill="#111"/>
<text x="502.6" y="493.7" font-family="Liberation Sans" font-size="10.2" fill="#222" font-style="italic" >16</text>
<line x1="344.3" y1="556.5" x2="382.4" y2="556.5" stroke="#2b2b2b" stroke-width="0.7" />
<path d="M344.3,556.5L348.5,555L348.5,558Z" fill="#111"/>
<path d="M382.4,556.5L378.2,558L378.2,555Z" fill="#111"/>
<text x="356.6" y="555.5" font-family="Liberation Sans" font-size="10.2" fill="#222" font-style="italic" >32</text>
<line x1="229.6" y1="615.3" x2="267.6" y2="615.3" stroke="#2b2b2b" stroke-width="0.7" />
<path d="M229.6,615.3L233.8,613.8L233.8,616.8Z" fill="#111"/>
<path d="M267.6,615.3L263.4,616.8L263.4,613.8Z" fill="#111"/>
<text x="242.4" y="614.1" font-family="Liberation Sans" font-size="10.2" fill="#222" font-style="italic" >32</text>
<line x1="332.5" y1="615.3" x2="344.3" y2="615.3" stroke="#2b2b2b" stroke-width="0.7" />
<path d="M332.5,615.3L336.7,613.8L336.7,616.8Z" fill="#111"/>
<path d="M344.3,615.3L340.1,616.8L340.1,613.8Z" fill="#111"/>
<line x1="318" y1="615.3" x2="332.5" y2="615.3" stroke="#2b2b2b" stroke-width="0.7" />
<text x="319" y="614.1" font-family="Liberation Sans" font-size="10.2" fill="#222" font-style="italic" >10</text>
<line x1="447" y1="615.3" x2="485.5" y2="615.3" stroke="#2b2b2b" stroke-width="0.7" />
<path d="M447,615.3L451.2,613.8L451.2,616.8Z" fill="#111"/>
<path d="M485.5,615.3L481.3,616.8L481.3,613.8Z" fill="#111"/>
<text x="459.5" y="614.1" font-family="Liberation Sans" font-size="10.2" fill="#222" font-style="italic" >32</text>
<line x1="571.4" y1="615.3" x2="609.5" y2="615.3" stroke="#2b2b2b" stroke-width="0.7" />
<path d="M571.4,615.3L575.6,613.8L575.6,616.8Z" fill="#111"/>
<path d="M609.5,615.3L605.3,616.8L605.3,613.8Z" fill="#111"/>
<text x="584.5" y="614.1" font-family="Liberation Sans" font-size="10.2" fill="#222" font-style="italic" >32</text>
<line x1="34.8" y1="678.2" x2="76.5" y2="678.2" stroke="#2b2b2b" stroke-width="0.7" />
<path d="M34.8,678.2L39,676.7L39,679.7Z" fill="#111"/>
<path d="M76.5,678.2L72.3,679.7L72.3,676.7Z" fill="#111"/>
<text x="52.3" y="676.3" font-family="Liberation Sans" font-size="10.2" fill="#222" font-style="italic" >35</text>
<line x1="76.5" y1="678.2" x2="229.6" y2="678.2" stroke="#2b2b2b" stroke-width="0.7" />
<path d="M76.5,678.2L80.7,676.7L80.7,679.7Z" fill="#111"/>
<path d="M229.6,678.2L225.4,679.7L225.4,676.7Z" fill="#111"/>
<text x="144.4" y="677.1" font-family="Liberation Sans" font-size="10.2" fill="#222" font-style="italic" >128</text>
<line x1="76.5" y1="688.1" x2="344.3" y2="688.1" stroke="#2b2b2b" stroke-width="0.7" />
<path d="M76.5,688.1L80.7,686.6L80.7,689.6Z" fill="#111"/>
<path d="M344.3,688.1L340.1,689.6L340.1,686.6Z" fill="#111"/>
<text x="157.2" y="687" font-family="Liberation Sans" font-size="10.2" fill="#222" font-style="italic" >224</text>
<line x1="76.5" y1="697.2" x2="497" y2="697.2" stroke="#2b2b2b" stroke-width="0.7" />
<path d="M76.5,697.2L80.7,695.7L80.7,698.7Z" fill="#111"/>
<path d="M497,697.2L492.8,698.7L492.8,695.7Z" fill="#111"/>
<text x="172.2" y="696.3" font-family="Liberation Sans" font-size="10.2" fill="#222" font-style="italic" >352</text>
<line x1="76.5" y1="706.3" x2="571.4" y2="706.3" stroke="#2b2b2b" stroke-width="0.7" />
<path d="M76.5,706.3L80.7,704.8L80.7,707.8Z" fill="#111"/>
<path d="M571.4,706.3L567.2,707.8L567.2,704.8Z" fill="#111"/>
<text x="188" y="705.7" font-family="Liberation Sans" font-size="10.2" fill="#222" font-style="italic" >416</text>
<line x1="76.5" y1="717.3" x2="648" y2="717.3" stroke="#2b2b2b" stroke-width="0.7" />
<path d="M76.5,717.3L80.7,715.8L80.7,718.8Z" fill="#111"/>
<path d="M648,717.3L643.8,718.8L643.8,715.8Z" fill="#111"/>
<text x="202" y="715.2" font-family="Liberation Sans" font-size="10.2" fill="#222" font-style="italic" >480</text>
<text x="30.9" y="249.8" font-family="Liberation Sans" font-size="8.85" fill="#111" font-weight="bold" >кромка боковой стенки</text>
<text x="140.2" y="249.8" font-family="Liberation Sans" font-size="8.85" fill="#8a8a8a" font-weight="bold" >/ sidewall edge</text>
<g id="clg"><line x1="76.6" y1="95" x2="76.6" y2="231" stroke="#666" stroke-width="0.55" stroke-dasharray="2,1.6" />
<line x1="86" y1="107" x2="86" y2="150" stroke="#777" stroke-width="0.55" stroke-dasharray="2,1.6" />
<line x1="101.75" y1="95" x2="101.75" y2="143" stroke="#777" stroke-width="0.55" stroke-dasharray="2,1.6" />
<line x1="123.2" y1="148" x2="123.2" y2="209" stroke="#666" stroke-width="0.55" stroke-dasharray="2,1.6" />
<line x1="143" y1="149" x2="143" y2="219" stroke="#666" stroke-width="0.55" stroke-dasharray="2,1.6" />
<line x1="174.4" y1="149" x2="174.4" y2="229" stroke="#444" stroke-width="0.6" stroke-dasharray="3,1.5,0.8,1.5" />
<line x1="205.9" y1="148" x2="205.9" y2="219" stroke="#666" stroke-width="0.55" stroke-dasharray="2,1.6" />
<path d="M113.8,194.7 L80.3,194.7 Q76.8,194.7 76.8,191.2 L76.8,125.9 Q76.8,122.4 80.3,122.4 L140.4,122.4 L170.1,136.6 L223.5,136.6" fill="none" stroke="#8a8a8a" stroke-width="0.9"/>
<path d="M139.6,124.2 L169.6,138.5 L223.5,138.5" fill="none" stroke="#9a9a9a" stroke-width="0.7"/>
<path d="M113.8,194.7 L139.3,178.5 L234.6,178.5" fill="none" stroke="#8a8a8a" stroke-width="0.9"/>
<path d="M116.5,194.7 L140,180.2 L234.6,180.2" fill="none" stroke="#9a9a9a" stroke-width="0.7"/>
<path d="M223.5,133 L223.5,138.5" fill="none" stroke="#999" stroke-width="0.7"/>
<path d="M224,141.5 Q231,156 234.6,172.5 L235.4,185" fill="none" stroke="#8a8a8a" stroke-width="0.7"/>
<path d="M224,141.6 L121.6,141.6 Q120.2,141.6 120.2,142.9 Q120.2,144.3 121.6,144.3 L224.5,144.3" fill="none" stroke="#999" stroke-width="0.7"/>
<path d="M234.6,172.4 L121.6,172.4 Q120.2,172.4 120.2,173.9 Q120.2,175.4 121.6,175.4 L234.6,175.4" fill="none" stroke="#999" stroke-width="0.7"/>
<line x1="48" y1="158.8" x2="239" y2="158.8" stroke="#999" stroke-width="0.6" stroke-dasharray="2.4,1.6,0.6,1.6" />
<line x1="58" y1="133.6" x2="121" y2="133.6" stroke="#999" stroke-width="0.6" stroke-dasharray="2.4,1.6,0.6,1.6" />
<line x1="38" y1="122.5" x2="77" y2="122.5" stroke="#777" stroke-width="0.55" stroke-dasharray="2,1.6" />
<line x1="36" y1="194.7" x2="77" y2="194.7" stroke="#777" stroke-width="0.55" stroke-dasharray="2,1.6" />
<circle cx="95.05" cy="167.05" r="18.6" fill="none" stroke="#8a8a8a" stroke-width="0.8"/>
<circle cx="95.05" cy="167.05" r="11.7" fill="none" stroke="#8a8a8a" stroke-width="0.8"/>
<circle cx="95.05" cy="167.05" r="8" fill="none" stroke="#8a8a8a" stroke-width="0.8"/>
<rect x="80.7" y="126.45" width="10.6" height="14.9" rx="5" fill="#fff" stroke="#999" stroke-width="0.8"/>
<rect x="82.2" y="128" width="7.6" height="11.8" rx="3.7" fill="none" stroke="#aaa" stroke-width="0.6"/>
<rect x="166.6" y="150.3" width="15.6" height="17" rx="7.6" fill="none" stroke="#999" stroke-width="0.8"/>
<rect x="168.3" y="152" width="12.2" height="13.6" rx="6" fill="none" stroke="#aaa" stroke-width="0.6"/>
<rect x="199.15" y="149.95" width="13.5" height="17.5" rx="6" fill="none" stroke="#999" stroke-width="0.8"/>
<rect x="200.85" y="151.65" width="10.1" height="14.1" rx="4.5" fill="none" stroke="#aaa" stroke-width="0.6"/>
<line x1="205.9" y1="154" x2="205.9" y2="163.5" stroke="#aaa" stroke-width="0.5" stroke-dasharray="1.5,1" />
<circle cx="101.75" cy="133.6" r="6.3" fill="#d6eedc"/>
<circle cx="101.75" cy="133.6" r="5.3" fill="#00a651"/>
<circle cx="123.2" cy="158.8" r="6.3" fill="#eee9b0"/>
<circle cx="123.2" cy="158.8" r="5.3" fill="#fff200"/>
<circle cx="143" cy="158.8" r="6.8" fill="#f5c9cb"/>
<circle cx="143" cy="158.8" r="5.8" fill="#ed1c24"/>
<line x1="125.4" y1="109.85" x2="141.5" y2="109.85" stroke="#333" stroke-width="0.6" />
<line x1="125.4" y1="109.85" x2="93.56" y2="141.82" stroke="#222" stroke-width="0.6" />
<path d="M105.7,129.63L107.81,124.96L110.36,127.5Z" fill="#111"/>
<path d="M97.8,137.57L95.69,142.24L93.14,139.7Z" fill="#111"/>
<line x1="152" y1="109.85" x2="171.6" y2="109.85" stroke="#333" stroke-width="0.6" />
<line x1="171.6" y1="109.85" x2="113.92" y2="168.19" stroke="#222" stroke-width="0.6" />
<path d="M127.14,154.82L129.23,150.14L131.79,152.67Z" fill="#111"/>
<path d="M119.26,162.78L117.17,167.46L114.61,164.93Z" fill="#111"/>
<line x1="189.6" y1="109.85" x2="208.9" y2="109.85" stroke="#333" stroke-width="0.6" />
<line x1="189.6" y1="109.85" x2="130.18" y2="172.27" stroke="#222" stroke-width="0.6" />
<path d="M147.48,154.09L149.49,149.37L152.1,151.86Z" fill="#111"/>
<path d="M138.52,163.51L136.51,168.23L133.9,165.74Z" fill="#111"/>
<line x1="222.9" y1="109.85" x2="243" y2="109.85" stroke="#333" stroke-width="0.6" />
<line x1="222.9" y1="109.85" x2="161.24" y2="172.08" stroke="#222" stroke-width="0.6" />
<path d="M180.24,152.9L182.34,148.23L184.9,150.76Z" fill="#111"/>
<path d="M168.56,164.7L166.46,169.37L163.9,166.84Z" fill="#111"/>
<line x1="76.7" y1="99.3" x2="101.75" y2="99.3" stroke="#2b2b2b" stroke-width="0.7" />
<path d="M76.7,99.3L80.7,97.9L80.7,100.7Z" fill="#111"/>
<path d="M101.75,99.3L97.75,100.7L97.75,97.9Z" fill="#111"/>
<line x1="59.7" y1="110.2" x2="94.5" y2="110.2" stroke="#333" stroke-width="0.6" />
<path d="M76.7,110.2L72.7,111.6L72.7,108.8Z" fill="#111"/>
<path d="M86,110.2L90,108.8L90,111.6Z" fill="#111"/>
<line x1="69.2" y1="115.3" x2="69.2" y2="207.8" stroke="#666" stroke-width="1.1" />
<line x1="54.8" y1="205.7" x2="76.5" y2="205.7" stroke="#222" stroke-width="0.75" />
<path d="M69.2,205.7L62.2,208.3L62.2,203.1Z" fill="#111"/>
<line x1="76.5" y1="205.6" x2="123.2" y2="205.6" stroke="#2b2b2b" stroke-width="0.7" />
<path d="M76.5,205.6L80.5,204.2L80.5,207Z" fill="#111"/>
<path d="M123.2,205.6L119.2,207L119.2,204.2Z" fill="#111"/>
<line x1="76.5" y1="216" x2="143" y2="216" stroke="#2b2b2b" stroke-width="0.7" />
<path d="M76.5,216L80.5,214.6L80.5,217.4Z" fill="#111"/>
<path d="M143,216L139,217.4L139,214.6Z" fill="#111"/>
<line x1="143" y1="216" x2="205.9" y2="216" stroke="#2b2b2b" stroke-width="0.7" />
<path d="M143,216L147,214.6L147,217.4Z" fill="#111"/>
<path d="M205.9,216L201.9,217.4L201.9,214.6Z" fill="#111"/>
<line x1="76.5" y1="226" x2="174.4" y2="226" stroke="#2b2b2b" stroke-width="0.7" />
<path d="M76.5,226L80.5,224.6L80.5,227.4Z" fill="#111"/>
<path d="M174.4,226L170.4,227.4L170.4,224.6Z" fill="#111"/></g>
<use href="#clg" transform="translate(530.5,-2) scale(-1,1)"/>
<line x1="40.35" y1="122.5" x2="40.35" y2="194.7" stroke="#2b2b2b" stroke-width="0.7" />
<path d="M40.35,122.5L41.75,126.5L38.95,126.5Z" fill="#111"/>
<path d="M40.35,194.7L38.95,190.7L41.75,190.7Z" fill="#111"/>
<line x1="51.25" y1="122.5" x2="51.25" y2="158.8" stroke="#2b2b2b" stroke-width="0.7" />
<path d="M51.25,122.5L52.65,126.5L49.85,126.5Z" fill="#111"/>
<path d="M51.25,158.8L49.85,154.8L52.65,154.8Z" fill="#111"/>
<line x1="61.75" y1="133.6" x2="61.75" y2="158.8" stroke="#2b2b2b" stroke-width="0.7" />
<path d="M61.75,133.6L63.15,137.6L60.35,137.6Z" fill="#111"/>
<path d="M61.75,158.8L60.35,154.8L63.15,154.8Z" fill="#111"/>
<line x1="48" y1="158.8" x2="62" y2="158.8" stroke="#777" stroke-width="0.55" stroke-dasharray="2,1.6" />
<text x="39.6" y="161.2" font-family="Liberation Sans" font-size="10.6" font-style="italic" fill="#222" text-anchor="middle" transform="rotate(-90 39.6 161.2)">34</text>
<text x="50.1" y="136.9" font-family="Liberation Sans" font-size="10.6" font-style="italic" fill="#222" text-anchor="middle" transform="rotate(-90 50.1 136.9)">17</text>
<text x="60.5" y="144.8" font-family="Liberation Sans" font-size="10.6" font-style="italic" fill="#222" text-anchor="middle" transform="rotate(-90 60.5 144.8)">12</text>
<text x="125.5" y="139.2" font-family="Liberation Sans" font-size="13" fill="#808080" >L</text>
<text x="81.5" y="97.4" font-family="Liberation Sans" font-size="10.5" fill="#222" font-style="italic" >12,5</text>
<text x="61.2" y="108.7" font-family="Liberation Sans" font-size="10.5" fill="#222" font-style="italic" >4,5</text>
<text x="127" y="108.2" font-family="Liberation Sans" font-size="10.5" fill="#222" font-style="italic" ><tspan font-size="8.6" font-weight="bold" font-style="normal">ø</tspan><tspan dx="1.2">5</tspan></text>
<text x="156.9" y="108.2" font-family="Liberation Sans" font-size="10.5" fill="#222" font-style="italic" ><tspan font-size="8.6" font-weight="bold" font-style="normal">ø</tspan><tspan dx="1.2">5</tspan></text>
<text x="195.75" y="108.2" font-family="Liberation Sans" font-size="10.5" fill="#222" font-style="italic" ><tspan font-size="8.6" font-weight="bold" font-style="normal">ø</tspan><tspan dx="1.2">6</tspan></text>
<text x="229" y="108.2" font-family="Liberation Sans" font-size="10.5" fill="#222" font-style="italic" ><tspan font-size="8.6" font-weight="bold" font-style="normal">ø</tspan><tspan dx="1.2">7</tspan></text>
<text x="56.5" y="203.9" font-family="Liberation Sans" font-size="10.5" fill="#111" font-weight="bold" font-style="italic" >3</text>
<text x="95" y="204.7" font-family="Liberation Sans" font-size="10.5" fill="#222" font-style="italic" >25</text>
<text x="103.6" y="214.7" font-family="Liberation Sans" font-size="10.5" fill="#222" font-style="italic" >35</text>
<text x="184" y="214.7" font-family="Liberation Sans" font-size="10.5" fill="#222" font-style="italic" >32</text>
<text x="114.4" y="224.7" font-family="Liberation Sans" font-size="10.5" fill="#222" font-style="italic" >51</text>
<text x="67.2" y="80" font-family="Liberation Sans" font-size="9.38" font-weight="bold" fill="#2a2a2a"><tspan font-size="10" fill="#111">CL</tspan> (левая к стенке) <tspan fill="#7a7a7a">CL</tspan><tspan fill="#a0a0a0"> (left to a wall)</tspan></text>
<rect x="307.6" y="135.9" width="20.6" height="4.3" fill="#fff"/>
<path d="M320.2,142.3 L328.5,136.5" fill="none" stroke="#999" stroke-width="0.7"/>
<line x1="471.9" y1="131.5" x2="471.9" y2="156.6" stroke="#2b2b2b" stroke-width="0.7" />
<path d="M471.9,131.5L473.3,135.5L470.5,135.5Z" fill="#111"/>
<path d="M471.9,156.6L470.5,152.6L473.3,152.6Z" fill="#111"/>
<line x1="482.75" y1="120.25" x2="482.75" y2="156.6" stroke="#2b2b2b" stroke-width="0.7" />
<path d="M482.75,120.25L484.15,124.25L481.35,124.25Z" fill="#111"/>
<path d="M482.75,156.6L481.35,152.6L484.15,152.6Z" fill="#111"/>
<line x1="492.1" y1="120.25" x2="492.1" y2="193.4" stroke="#2b2b2b" stroke-width="0.7" />
<path d="M492.1,120.25L493.5,124.25L490.7,124.25Z" fill="#111"/>
<path d="M492.1,193.4L490.7,189.4L493.5,189.4Z" fill="#111"/>
<line x1="454" y1="120.25" x2="497" y2="120.25" stroke="#777" stroke-width="0.55" stroke-dasharray="2,1.6" />
<line x1="454" y1="193.4" x2="497" y2="193.4" stroke="#777" stroke-width="0.55" stroke-dasharray="2,1.6" />
<line x1="440" y1="131.5" x2="476" y2="131.5" stroke="#999" stroke-width="0.55" stroke-dasharray="2,1.6" />
<line x1="470" y1="156.6" x2="487" y2="156.6" stroke="#777" stroke-width="0.55" stroke-dasharray="2,1.6" />
<text x="470.6" y="143" font-family="Liberation Sans" font-size="10.6" font-style="italic" fill="#222" text-anchor="middle" transform="rotate(-90 470.6 143)">12</text>
<text x="481.6" y="141.6" font-family="Liberation Sans" font-size="9.8" font-style="italic" fill="#222" text-anchor="middle" transform="rotate(-90 481.6 141.6)">17,5</text>
<text x="490.8" y="163.7" font-family="Liberation Sans" font-size="10.6" font-style="italic" fill="#222" text-anchor="middle" transform="rotate(-90 490.8 163.7)">35</text>
<text x="397.6" y="135.6" font-family="Liberation Sans" font-size="12" fill="#7a7a7a" font-weight="bold" >R</text>
<text x="434.4" y="94.1" font-family="Liberation Sans" font-size="10.5" fill="#222" font-style="italic" >12,5</text>
<text x="460.6" y="105.4" font-family="Liberation Sans" font-size="10.5" fill="#222" font-style="italic" >4,5</text>
<text x="392.2" y="105.3" font-family="Liberation Sans" font-size="10.5" fill="#222" font-style="italic" ><tspan font-size="8.6" font-weight="bold" font-style="normal">ø</tspan><tspan dx="1.2">5</tspan></text>
<text x="361.6" y="105.5" font-family="Liberation Sans" font-size="10.5" fill="#222" font-style="italic" ><tspan font-size="8.6" font-weight="bold" font-style="normal">ø</tspan><tspan dx="1.2">5</tspan></text>
<text x="324" y="105.5" font-family="Liberation Sans" font-size="10.5" fill="#222" font-style="italic" ><tspan font-size="8.6" font-weight="bold" font-style="normal">ø</tspan><tspan dx="1.2">6</tspan></text>
<text x="290.3" y="105.5" font-family="Liberation Sans" font-size="10.5" fill="#222" font-style="italic" ><tspan font-size="8.6" font-weight="bold" font-style="normal">ø</tspan><tspan dx="1.2">7</tspan></text>
<text x="470.4" y="202.2" font-family="Liberation Sans" font-size="10.5" fill="#111" font-weight="bold" font-style="italic" >3</text>
<text x="436.25" y="202.9" font-family="Liberation Sans" font-size="10.5" fill="#222" font-style="italic" >25</text>
<text x="428.4" y="213.2" font-family="Liberation Sans" font-size="10.5" fill="#222" font-style="italic" >35</text>
<text x="361" y="213.2" font-family="Liberation Sans" font-size="10.5" fill="#222" font-style="italic" >32</text>
<text x="417.5" y="223.1" font-family="Liberation Sans" font-size="10.5" fill="#222" font-style="italic" >51</text>
<text x="306.2" y="79.8" font-family="Liberation Sans" font-size="9.37" font-weight="bold" fill="#2a2a2a"><tspan font-size="10" fill="#111">CR</tspan> (правая к стенке) <tspan fill="#7a7a7a">CR</tspan><tspan fill="#a0a0a0"> (right to a wall)</tspan></text>
<circle cx="509.8" cy="86.75" r="6.3" fill="#ed1c24" stroke="#c9151d" stroke-width="0.7"/>
<circle cx="509.8" cy="126.75" r="6.4" fill="#fff200" stroke="#f2e600" stroke-width="0.5"/>
<circle cx="509.8" cy="177.8" r="6.3" fill="#00a651" stroke="#078a42" stroke-width="0.7"/>
<text x="521.3" y="90.90" font-family="Liberation Sans" font-size="10.9" fill="#2a2a2a" stroke="#2a2a2a" stroke-width="0.2"><tspan font-weight="bold">A</tspan> - Отверстия Ø 5 для монтажа направляющей</text>
<text x="521.3" y="104.00" font-family="Liberation Sans" font-size="10.9" fill="#2a2a2a" stroke="#2a2a2a" stroke-width="0.2">при помощи саморезов 3,5х16 мм.</text>
<text x="521.3" y="130.20" font-family="Liberation Sans" font-size="10.9" fill="#2a2a2a" stroke="#2a2a2a" stroke-width="0.2"><tspan font-weight="bold">B</tspan> - Отверстия Ø 6 для монтажа направляющей</text>
<text x="521.3" y="143.30" font-family="Liberation Sans" font-size="10.9" fill="#2a2a2a" stroke="#2a2a2a" stroke-width="0.2">при помощи саморезов 4х16 мм или еврошурупов</text>
<text x="521.3" y="156.40" font-family="Liberation Sans" font-size="10.9" fill="#2a2a2a" stroke="#2a2a2a" stroke-width="0.2">6,3х13 мм с потайной головкой.</text>
<text x="521.3" y="182.60" font-family="Liberation Sans" font-size="10.9" fill="#2a2a2a" stroke="#2a2a2a" stroke-width="0.2"><tspan font-weight="bold">C</tspan> - Отверстие Ø 5 для установки фиксирующего</text>
<text x="521.3" y="195.70" font-family="Liberation Sans" font-size="10.9" fill="#2a2a2a" stroke="#2a2a2a" stroke-width="0.2">самореза. Установка фиксирующего самореза</text>
<text x="521.3" y="208.80" font-family="Liberation Sans" font-size="10.9" fill="#2a2a2a" stroke="#2a2a2a" stroke-width="0.2">обязательна, для корректной работы</text>
<text x="521.3" y="221.90" font-family="Liberation Sans" font-size="10.9" fill="#2a2a2a" stroke="#2a2a2a" stroke-width="0.2">направляющей.</text>
</svg></body></html>
